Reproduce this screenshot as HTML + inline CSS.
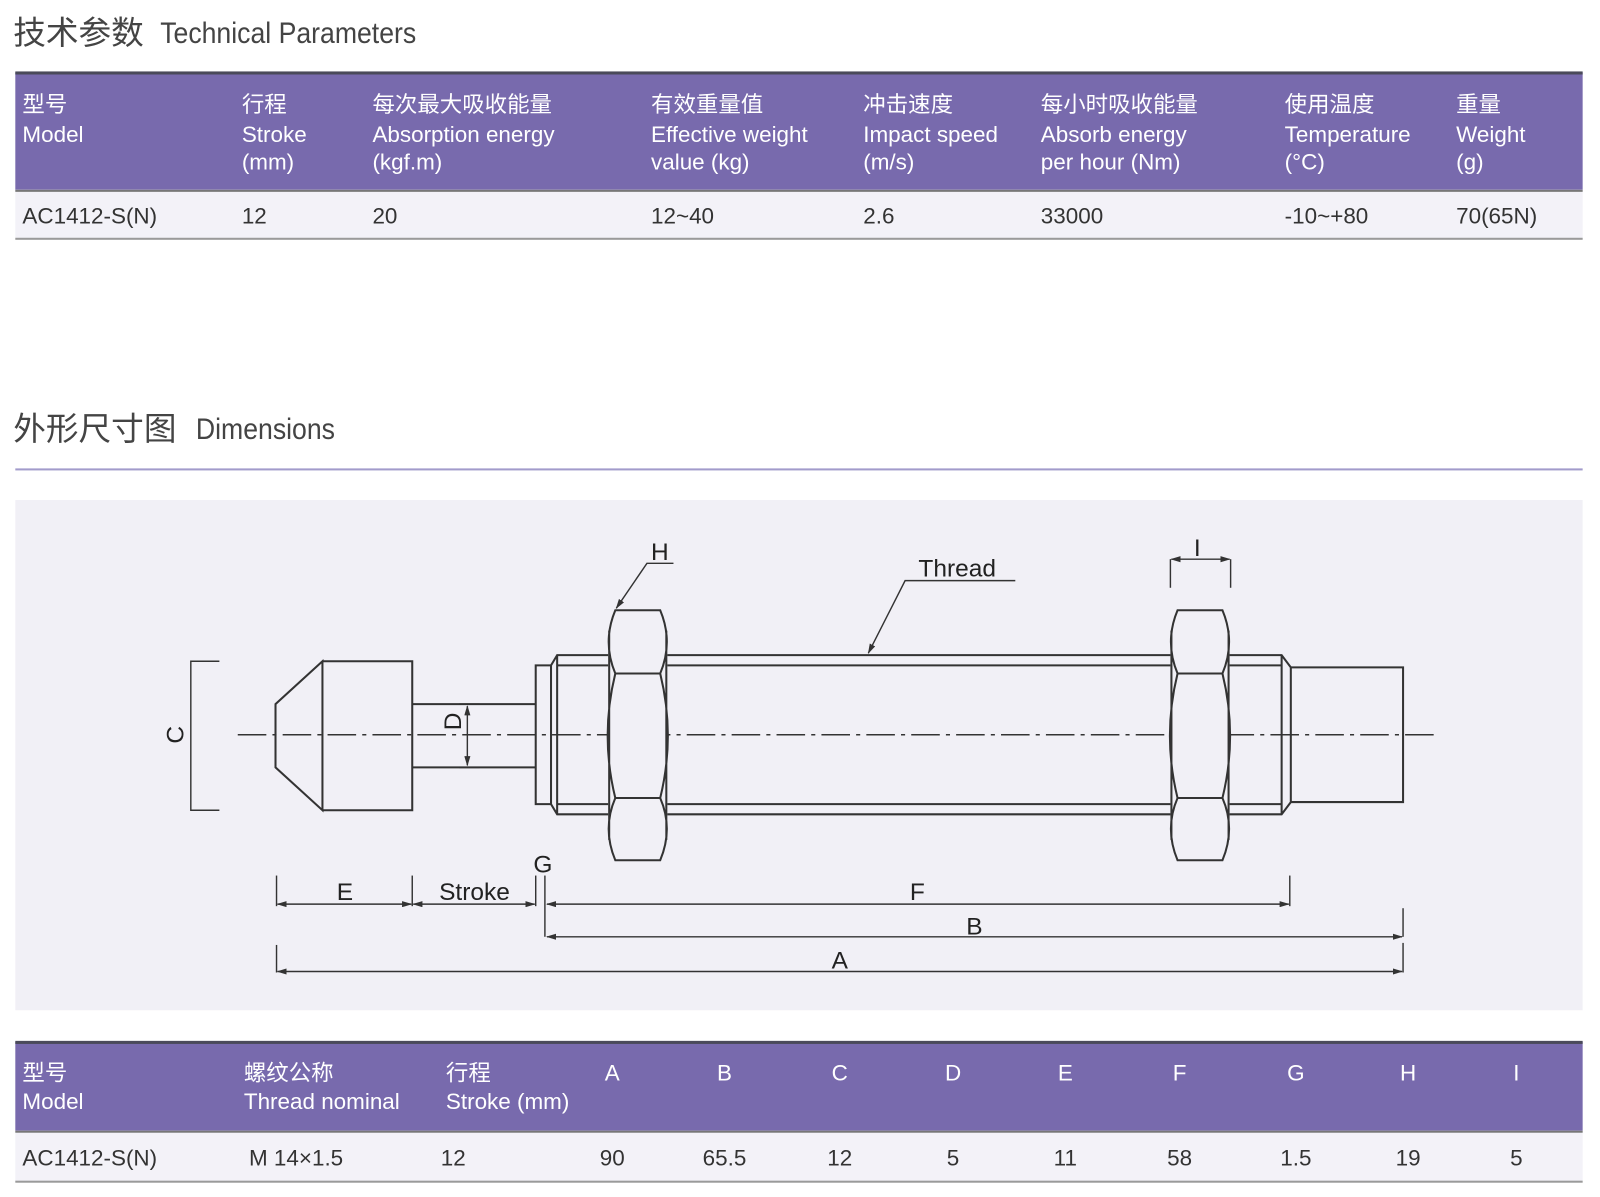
<!DOCTYPE html>
<html><head><meta charset="utf-8"><style>
html,body{margin:0;padding:0;background:#fff;width:1600px;height:1197px;overflow:hidden}
svg{display:block}
text{font-family:"Liberation Sans","Noto Sans CJK SC",sans-serif}
.h{fill:#fff;font-size:22px}
.d{fill:#333;font-size:22px}
.l{fill:#222;font-size:24px}
.s{stroke:#333;stroke-width:2;fill:none}
.t{stroke:#333;stroke-width:1.4;fill:none}
</style></head><body>
<svg width="1600" height="1197" viewBox="0 0 1568 1173" preserveAspectRatio="none" xmlns="http://www.w3.org/2000/svg">
<defs><marker id="ar" markerWidth="10" markerHeight="6" refX="9" refY="3" orient="auto-start-reverse" markerUnits="userSpaceOnUse"><path d="M0,0 L10,3 L0,6 z" fill="#333"/></marker></defs>
<!-- Title 1 -->
<text x="13" y="43" font-size="32" fill="#444">技术参数</text>
<text x="157" y="42" font-size="29" fill="#444" transform="translate(157 0) scale(0.9 1) translate(-157 0)">Technical Parameters</text>
<!-- Table 1 -->
<rect x="15" y="71" width="1536" height="115" fill="#786aad"/>
<rect x="15" y="70" width="1536" height="3" fill="#4a4a5a"/>
<rect x="15" y="186" width="1536" height="48" fill="#f3f2f8"/>
<rect x="15" y="186" width="1536" height="2" fill="#777"/>
<rect x="15" y="233" width="1536" height="2" fill="#9a9a9a"/>
<g class="h">
<text x="22" y="110">型号</text><text x="22" y="139">Model</text>
<text x="237" y="110">行程</text><text x="237" y="139">Stroke</text><text x="237" y="166">(mm)</text>
<text x="365" y="110">每次最大吸收能量</text><text x="365" y="139">Absorption energy</text><text x="365" y="166">(kgf.m)</text>
<text x="638" y="110">有效重量值</text><text x="638" y="139">Effective weight</text><text x="638" y="166">value (kg)</text>
<text x="846" y="110">冲击速度</text><text x="846" y="139">Impact speed</text><text x="846" y="166">(m/s)</text>
<text x="1020" y="110">每小时吸收能量</text><text x="1020" y="139">Absorb energy</text><text x="1020" y="166">per hour (Nm)</text>
<text x="1259" y="110">使用温度</text><text x="1259" y="139">Temperature</text><text x="1259" y="166">(°C)</text>
<text x="1427" y="110">重量</text><text x="1427" y="139">Weight</text><text x="1427" y="166">(g)</text>
</g>
<g class="d">
<text x="22" y="219">AC1412-S(N)</text><text x="237" y="219">12</text><text x="365" y="219">20</text>
<text x="638" y="219">12~40</text><text x="846" y="219">2.6</text><text x="1020" y="219">33000</text>
<text x="1259" y="219">-10~+80</text><text x="1427" y="219">70(65N)</text>
</g>
<!-- Title 2 -->
<text x="13" y="431" font-size="32" fill="#444">外形尺寸图</text>
<text x="192" y="430" font-size="29" fill="#444" transform="translate(192 0) scale(0.9 1) translate(-192 0)">Dimensions</text>
<rect x="15" y="459" width="1536" height="2" fill="#a29bcb"/>
<!-- Drawing area -->
<rect x="15" y="490" width="1536" height="500" fill="#f1f0f6"/>
<line x1="233" y1="720" x2="1405" y2="720" stroke="#333" stroke-width="1.5" stroke-dasharray="28,6,4,6"/>
<polyline class="t" points="215,648 187,648 187,794 215,794"/>
<text class="l" transform="translate(180 720) rotate(-90)" text-anchor="middle">C</text>
<path class="s" d="M316,648 L270,690 L270,752 L316,794 Z M316,648 H404 V794 H316"/>
<path class="s" d="M404,690 H525 M404,752 H525"/>
<line class="t" x1="458" y1="692" x2="458" y2="750" marker-start="url(#ar)" marker-end="url(#ar)"/>
<line class="t" x1="450" y1="690" x2="470" y2="690"/><line class="t" x1="450" y1="752" x2="470" y2="752"/>
<text class="l" transform="translate(452 707) rotate(-90)" text-anchor="middle">D</text>
<path class="s" d="M525,652 H540 V788 H525 Z M540,652 L546,642 H1256 L1265,654 M540,788 L546,798 H1256 L1265,786 M546,642 V798 M546,652 H1256 M546,788 H1256 M1256,642 V798 M1265,654 V786"/>
<path class="s" d="M1265,654 H1375 V786 H1265"/>
<g id="nut">
<rect x="596" y="598" width="58" height="245" fill="#f1f0f6" stroke="none"/>
<path class="s" d="M603,598 H647 Q660,629 647,660 H603 Q590,629 603,598 Z M603,660 Q588,721 603,782 M647,660 Q662,721 647,782 M603,782 H647 Q660,812 647,843 H603 Q590,812 603,782 Z M597,618 V823 M653,618 V823"/>
</g>
<use href="#nut" transform="translate(551 0)"/>
<text class="l" x="638" y="549">H</text>
<polyline class="t" points="660,552 634,552 604,596" marker-end="url(#ar)"/>
<text class="l" x="900" y="565">Thread</text>
<polyline class="t" points="995,569 887,569 851,640" marker-end="url(#ar)"/>
<text class="l" x="1170" y="545">I</text>
<line class="t" x1="1147" y1="548" x2="1147" y2="576"/><line class="t" x1="1206" y1="548" x2="1206" y2="576"/>
<line class="t" x1="1148" y1="548" x2="1205" y2="548" marker-start="url(#ar)" marker-end="url(#ar)"/>
<g class="t">
<line x1="271" y1="858" x2="271" y2="888"/><line x1="404" y1="858" x2="404" y2="888"/>
<line x1="525" y1="858" x2="525" y2="888"/><line x1="534" y1="858" x2="534" y2="918"/>
<line x1="1264" y1="858" x2="1264" y2="888"/>
<line x1="1375" y1="890" x2="1375" y2="918"/>
<line x1="271" y1="926" x2="271" y2="953"/><line x1="1375" y1="924" x2="1375" y2="953"/>
</g>
<line class="t" x1="272" y1="886" x2="403" y2="886" marker-start="url(#ar)" marker-end="url(#ar)"/>
<line class="t" x1="405" y1="886" x2="524" y2="886" marker-start="url(#ar)" marker-end="url(#ar)"/>
<line class="t" x1="536" y1="886" x2="1263" y2="886" marker-start="url(#ar)" marker-end="url(#ar)"/>
<line class="t" x1="536" y1="918" x2="1374" y2="918" marker-start="url(#ar)" marker-end="url(#ar)"/>
<line class="t" x1="272" y1="952" x2="1374" y2="952" marker-start="url(#ar)" marker-end="url(#ar)"/>
<text class="l" x="338" y="882" text-anchor="middle">E</text>
<text class="l" x="465" y="882" text-anchor="middle">Stroke</text>
<text class="l" x="532" y="855" text-anchor="middle">G</text>
<text class="l" x="899" y="882" text-anchor="middle">F</text>
<text class="l" x="955" y="916" text-anchor="middle">B</text>
<text class="l" x="823" y="949" text-anchor="middle">A</text>
<!-- Table 2 -->
<rect x="15" y="1021" width="1536" height="87" fill="#786aad"/>
<rect x="15" y="1020" width="1536" height="3" fill="#4a4a5a"/>
<rect x="15" y="1108" width="1536" height="50" fill="#f3f2f8"/>
<rect x="15" y="1108" width="1536" height="2" fill="#777"/>
<rect x="15" y="1157" width="1536" height="2" fill="#9a9a9a"/>
<g class="h">
<text x="22" y="1059">型号</text><text x="22" y="1087">Model</text>
<text x="239" y="1059">螺纹公称</text><text x="239" y="1087">Thread nominal</text>
<text x="437" y="1059">行程</text><text x="437" y="1087">Stroke (mm)</text>
</g>
<g class="h" text-anchor="middle">
<text x="600" y="1059">A</text><text x="710" y="1059">B</text><text x="823" y="1059">C</text><text x="934" y="1059">D</text><text x="1044" y="1059">E</text><text x="1156" y="1059">F</text><text x="1270" y="1059">G</text><text x="1380" y="1059">H</text><text x="1486" y="1059">I</text>
</g>
<g class="d">
<text x="22" y="1142">AC1412-S(N)</text><text x="244" y="1142">M 14×1.5</text><text x="432" y="1142">12</text>
</g>
<g class="d" text-anchor="middle">
<text x="600" y="1142">90</text><text x="710" y="1142">65.5</text><text x="823" y="1142">12</text><text x="934" y="1142">5</text><text x="1044" y="1142">11</text><text x="1156" y="1142">58</text><text x="1270" y="1142">1.5</text><text x="1380" y="1142">19</text><text x="1486" y="1142">5</text>
</g>
</svg>
</body></html>
